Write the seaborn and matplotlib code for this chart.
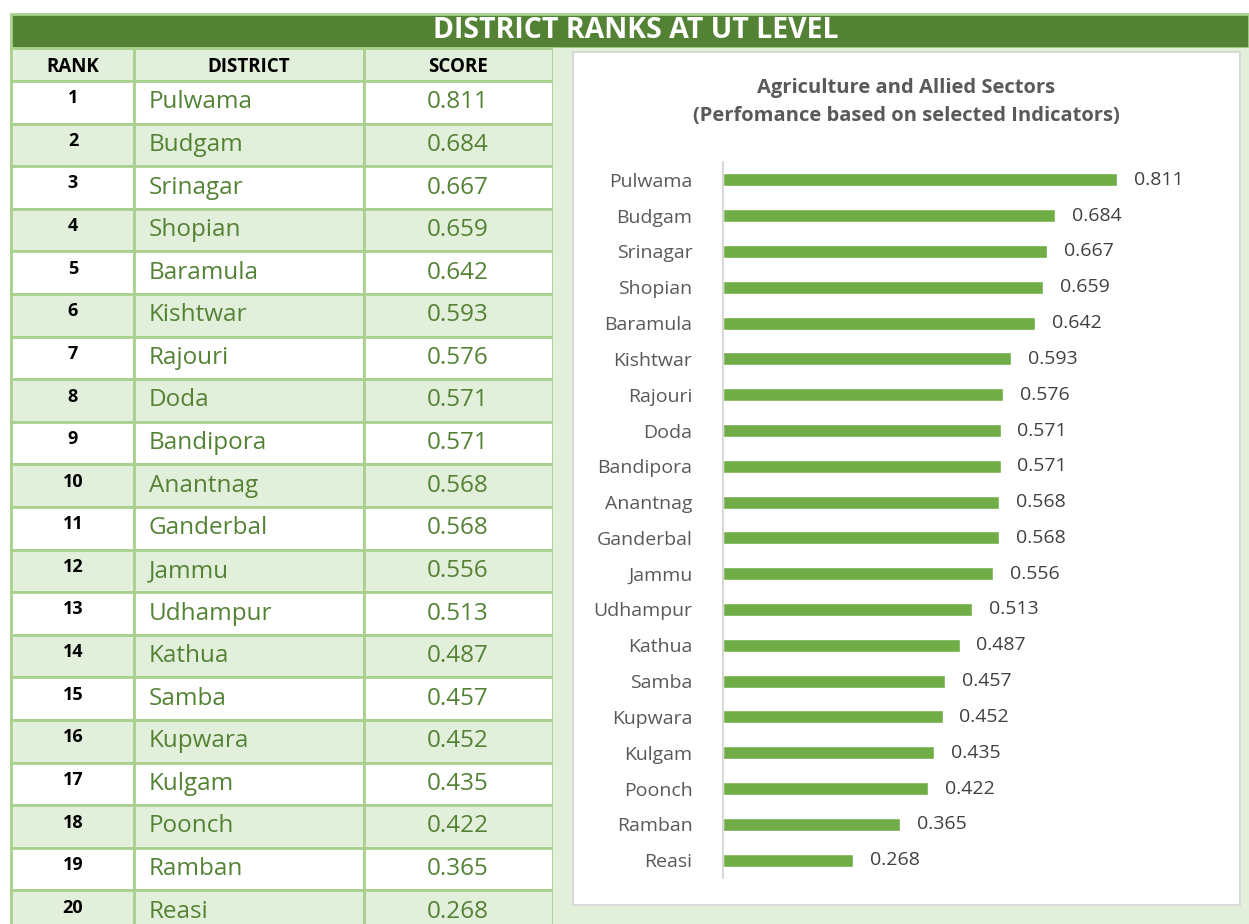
import matplotlib
matplotlib.use("Agg")
import matplotlib.pyplot as plt
import seaborn as sns
from matplotlib.patches import Rectangle

districts = ["Pulwama", "Budgam", "Srinagar", "Shopian", "Baramula", "Kishtwar",
             "Rajouri", "Doda", "Bandipora", "Anantnag", "Ganderbal", "Jammu",
             "Udhampur", "Kathua", "Samba", "Kupwara", "Kulgam", "Poonch",
             "Ramban", "Reasi"]
scores = [0.811, 0.684, 0.667, 0.659, 0.642, 0.593, 0.576, 0.571, 0.571, 0.568,
          0.568, 0.556, 0.513, 0.487, 0.457, 0.452, 0.435, 0.422, 0.365, 0.268]
col_heads = ["RANK", "DISTRICT", "SCORE"]
page_title = "DISTRICT RANKS AT UT LEVEL"
chart_title = "Agriculture and Allied Sectors\n(Perfomance based on selected Indicators)"

sns.set_style("white")
plt.rcParams['font.family'] = ['Open Sans', 'DejaVu Sans']

dark_green = "#548235"
bar_green = "#70AD47"
light_green = "#E2EFDA"
line_green = "#A9D08E"
grey = "#595959"

W, H = 1249, 924
fig = plt.figure(figsize=(W / 100, H / 100), dpi=100)
bg = fig.add_axes([0, 0, 1, 1])
bg.set_xlim(0, W)
bg.set_ylim(H, 0)
bg.axis("off")

# header bar
bg.add_patch(Rectangle((11, 14), W - 11, 34, facecolor=dark_green, edgecolor=line_green, lw=2))
bg.text(636, 31, page_title, color="white", fontsize=20.5, fontweight="bold",
        ha="center", va="center")

# table
cols = [11, 134, 364, 553]
row_h = 42.6
top = 48
head_h = 33
for i in range(3):
    bg.add_patch(Rectangle((cols[i], top), cols[i + 1] - cols[i], head_h,
                           facecolor=light_green, edgecolor=line_green, lw=2))
    bg.text((cols[i] + cols[i + 1]) / 2, top + head_h / 2 + 2, col_heads[i],
            fontsize=13.5, fontweight="bold", color="black", ha="center", va="center")

y0 = top + head_h
for r, (name, val) in enumerate(zip(districts, scores)):
    y = y0 + r * row_h
    fc = "white" if r % 2 == 0 else light_green
    for i in range(3):
        bg.add_patch(Rectangle((cols[i], y), cols[i + 1] - cols[i], row_h,
                               facecolor=fc, edgecolor=line_green, lw=2))
    bg.text(73, y + row_h / 2 - 4, str(r + 1), fontsize=13, fontweight="bold",
            color="black", ha="center", va="center")
    bg.text(149, y + row_h / 2, name, fontsize=17.5, color=dark_green,
            ha="left", va="center")
    bg.text(458, y + row_h / 2, f"{val:.3f}", fontsize=17.5, color=dark_green,
            ha="center", va="center")

# chart panel
bg.add_patch(Rectangle((553, top), W - 553, H - top, facecolor=light_green, edgecolor="none"))
bg.add_patch(Rectangle((573, 52), 667, 853, facecolor="white", edgecolor="#D9D9D9", lw=1.5))
bg.text(906, 102, chart_title, fontsize=14.5, fontweight="bold", color=grey,
        ha="center", va="center", linespacing=1.6)

ax = fig.add_axes([723 / W, 1 - 878 / H, (1209 - 723) / W, (878 - 162) / H])
sns.barplot(x=scores, y=districts, orient="h", color=bar_green, width=0.36,
            saturation=1, ax=ax)
ax.set_xlim(0, 1.0)
ax.set_ylim(19.5, -0.5)
ax.set_facecolor("none")
for s in ["top", "right", "bottom"]:
    ax.spines[s].set_visible(False)
ax.spines["left"].set_color("#D9D9D9")
ax.spines["left"].set_linewidth(1.5)
ax.set_xticks([])
ax.tick_params(axis="y", length=0, pad=22, labelsize=14, labelcolor=grey)
ax.bar_label(ax.containers[0], fmt="%.3f", padding=12, fontsize=14, color="#404040")

fig.savefig("out.png", dpi=100)
